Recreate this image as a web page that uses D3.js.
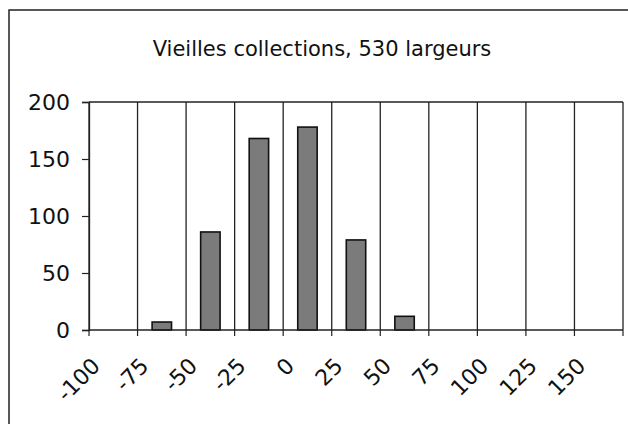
<!DOCTYPE html>
<html>
<head>
<meta charset="utf-8">
<script src="https://cdn.jsdelivr.net/npm/d3@7"></script>
<style>
  html, body { margin: 0; padding: 0; background: #fff; }
  svg { display: block; font-family: "DejaVu Sans", Verdana, sans-serif; }
</style>
</head>
<body>
<div id="chart"></div>
<script>
const title = "Vieilles collections, 530 largeurs";
// lower bound of each 25-wide bin
const bins = ["-100", "-75", "-50", "-25", "0", "25", "50", "75", "100", "125", "150"];
const counts = [0, 7, 86, 168, 178, 79, 12, 0, 0, 0, 0];
const yTicks = [0, 50, 100, 150, 200];

const width = 628;
const height = 424;
const plot = { left: 89, right: 623, top: 102, bottom: 330 };

const svg = d3.select("#chart")
  .append("svg")
  .attr("width", width)
  .attr("height", height);

// outer chart frame (cut off at right and bottom)
svg.append("rect")
  .attr("x", 9)
  .attr("y", 10)
  .attr("width", 700)
  .attr("height", 500)
  .attr("fill", "none")
  .attr("stroke", "#222")
  .attr("stroke-width", 1.5);

svg.append("text")
  .attr("x", 322)
  .attr("y", 56)
  .attr("text-anchor", "middle")
  .attr("font-size", 21)
  .attr("fill", "#111")
  .text(title);

const cell = d3.scaleBand()
  .domain(bins)
  .range([plot.left, plot.right])
  .padding(0);

const y = d3.scaleLinear()
  .domain([0, 200])
  .range([plot.bottom, plot.top]);

// vertical gridlines at each bin edge, plus right border
const edges = bins.map((b) => cell(b)).concat([plot.right]);
svg.append("g")
  .selectAll("line")
  .data(edges)
  .join("line")
  .attr("x1", (d) => d)
  .attr("x2", (d) => d)
  .attr("y1", y(200))
  .attr("y2", y(0))
  .attr("stroke", "#222")
  .attr("stroke-width", 1.3);

// top border
svg.append("line")
  .attr("x1", plot.left)
  .attr("x2", plot.right)
  .attr("y1", y(200))
  .attr("y2", y(200))
  .attr("stroke", "#222")
  .attr("stroke-width", 1.3);

// bars
svg.append("g")
  .selectAll("rect")
  .data(counts.map((c, i) => ({ bin: bins[i], count: c })).filter((d) => d.count > 0))
  .join("rect")
  .attr("x", (d) => cell(d.bin) + cell.bandwidth() * 0.3)
  .attr("width", cell.bandwidth() * 0.4)
  .attr("y", (d) => y(d.count))
  .attr("height", (d) => y(0) - y(d.count))
  .attr("fill", "#7b7b7b")
  .attr("stroke", "#111")
  .attr("stroke-width", 1.6);

// y axis
const yAxis = svg.append("g")
  .attr("transform", `translate(${plot.left},0)`)
  .call(d3.axisLeft(y).tickValues(yTicks).tickSize(7).tickPadding(12));
yAxis.select(".domain").attr("stroke", "#222").attr("stroke-width", 1.3);
yAxis.selectAll(".tick line").attr("stroke", "#222").attr("stroke-width", 1.2);
yAxis.selectAll("text")
  .attr("font-size", 22)
  .attr("font-family", "DejaVu Sans, Verdana, sans-serif")
  .attr("fill", "#111");

// x axis line and ticks at bin edges
svg.append("line")
  .attr("x1", plot.left)
  .attr("x2", plot.right)
  .attr("y1", y(0))
  .attr("y2", y(0))
  .attr("stroke", "#222")
  .attr("stroke-width", 1.4);

svg.append("g")
  .selectAll("line")
  .data(edges)
  .join("line")
  .attr("x1", (d) => d)
  .attr("x2", (d) => d)
  .attr("y1", y(0))
  .attr("y2", y(0) + 6)
  .attr("stroke", "#222")
  .attr("stroke-width", 1.2);

svg.append("g")
  .selectAll("text")
  .data(bins)
  .join("text")
  .attr("transform", (d) => `translate(${cell(d) + 7},${y(0) + 32}) rotate(-45)`)
  .attr("text-anchor", "end")
  .attr("dy", "0.35em")
  .attr("font-size", 22)
  .attr("fill", "#111")
  .text((d) => d);
</script>
</body>
</html>
